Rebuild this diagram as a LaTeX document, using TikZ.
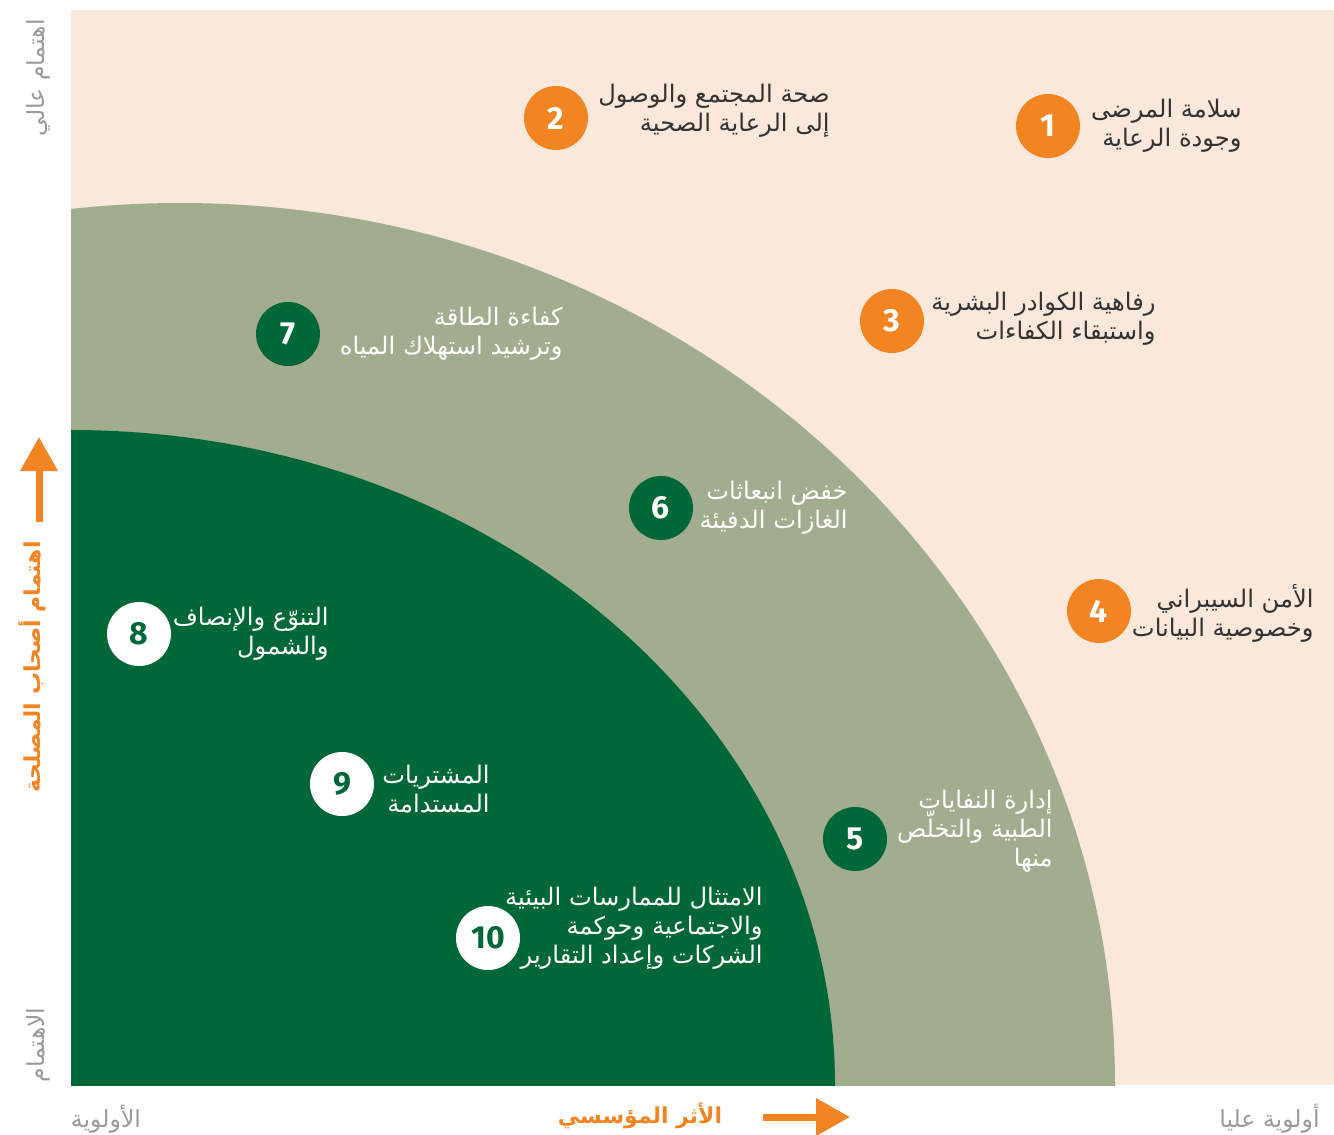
\documentclass[tikz,border=0pt]{standalone}
\usepackage{fontspec}
\setmainfont{Fira Sans}
\newfontfamily\arabicfont[Script=Arabic]{DejaVu Sans}
\TeXXeTstate=1
\usetikzlibrary{arrows.meta}

\definecolor{peach}{HTML}{FAE8DA}
\definecolor{sage}{HTML}{A2AD8F}
\definecolor{dkgreen}{HTML}{006838}
\definecolor{orng}{HTML}{F28522}
\definecolor{axisgrey}{HTML}{9A9A9A}
\definecolor{txtgrey}{HTML}{333333}

\newcommand{\rl}[1]{\beginR#1\endR}
\newcommand{\tightlines}{\setlength{\lineskiplimit}{-20pt}}

\tikzset{
  dot/.style={circle, minimum size=32pt, inner sep=0pt, font=\bfseries\fontsize{16}{16}\selectfont},
  orangedot/.style={dot, fill=orng, text=white},
  greendot/.style={dot, fill=dkgreen, text=white},
  whitedot/.style={dot, fill=white, text=dkgreen},
  topic/.style={anchor=east, align=right, inner sep=0pt, font=\arabicfont\fontsize{12.1}{14.5}\selectfont\tightlines},
  axislabel/.style={inner sep=0pt, text=axisgrey, font=\arabicfont\fontsize{11.8}{13}\selectfont},
  axistitle/.style={inner sep=0pt, text=orng, font=\arabicfont\bfseries\fontsize{11}{13}\selectfont},
  bigarrow/.style={orng, line width=3.5pt, -{Triangle[length=17pt,width=18pt]}}
}

\begin{document}
\begin{tikzpicture}[x=0.5pt, y=-0.5pt]
	\useasboundingbox (0,0) rectangle (1334,1135);
	% zones
	\fill[peach] (71,10) rectangle (1334,1085);
	\begin{scope}
		\clip (71,10) rectangle (1334,1085);
		\fill[sage] (180,1085) ellipse [x radius=467.5pt, y radius=441pt];
		\fill[dkgreen] (71,1085) ellipse [x radius=382pt, y radius=327.5pt];
	\end{scope}

	% high priority topics
	\node[orangedot] (c1) at (1048,126) {1};
	\node[topic, text=txtgrey] (t1) at (1242,126) {\rl{سلامة المرضى}\\\rl{وجودة الرعاية}};
	\node[orangedot] (c2) at (556,118) {2};
	\node[topic, text=txtgrey] (t2) at (830,111) {\rl{صحة المجتمع والوصول}\\\rl{إلى الرعاية الصحية}};
	\node[orangedot] (c3) at (892,321) {3};
	\node[topic, text=txtgrey] (t3) at (1156,319) {\rl{رفاهية الكوادر البشرية}\\\rl{واستبقاء الكفاءات}};
	\node[orangedot] (c4) at (1099,611) {4};
	\node[topic, text=txtgrey] (t4) at (1314,613) {\rl{الأمن السيبراني}\\\rl{وخصوصية البيانات}};

	% middle zone
	\node[greendot] (c5) at (855,839) {5};
	\node[topic, text=white] (t5) at (1053,831) {\rl{إدارة النفايات}\\\rl{الطبية والتخلّص}\\\rl{منها}};
	\node[greendot] (c6) at (661,508) {6};
	\node[topic, text=white] (t6) at (848,508) {\rl{خفض انبعاثات}\\\rl{الغازات الدفيئة}};
	\node[greendot] (c7) at (288,334) {7};
	\node[topic, text=white] (t7) at (563,334) {\rl{كفاءة الطاقة}\\\rl{وترشيد استهلاك المياه}};

	% inner zone
	\node[whitedot] (c8) at (139,634) {8};
	\node[topic, text=white] (t8) at (329,634) {\rl{التنوّع والإنصاف}\\\rl{والشمول}};
	\node[whitedot] (c9) at (342,784) {9};
	\node[topic, text=white] (t9) at (490,789) {\rl{المشتريات}\\\rl{المستدامة}};
	\node[whitedot] (c10) at (488,938) {10};
	\node[topic, text=white] (t10) at (763,928) {\rl{الامتثال للممارسات البيئية}\\\rl{والاجتماعية وحوكمة}\\\rl{الشركات وإعداد التقارير}};

	% axes
	\node[axislabel, rotate=90] (yhigh) at (38,78) {\rl{اهتمام عالي}};
	\node[axistitle, rotate=90] (ytitle) at (32,667) {\rl{اهتمام أصحاب المصلحة}};
	\node[axislabel, rotate=90] (ylow) at (38,1045) {\rl{الاهتمام}};
	\coordinate (yfrom) at (39,522);
	\coordinate (yto) at (39,437);
	\draw[bigarrow] (yfrom) -- (yto);

	\node[axislabel] (xlow) at (106,1119) {\rl{الأولوية}};
	\node[axistitle] (xtitle) at (640,1116) {\rl{الأثر المؤسسي}};
	\node[axislabel, anchor=east] (xhigh) at (1320,1119) {\rl{أولوية عليا}};
	\coordinate (xfrom) at (763,1117);
	\coordinate (xto) at (850,1117);
	\draw[bigarrow] (xfrom) -- (xto);
\end{tikzpicture}
\end{document}
